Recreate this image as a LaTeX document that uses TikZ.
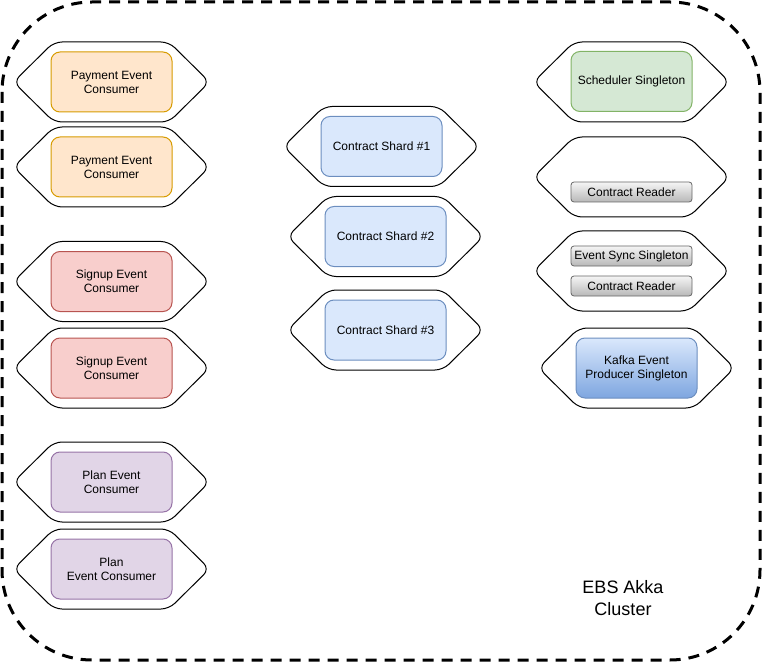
\documentclass[tikz,border=0pt]{standalone}
\usepackage{fontspec}
\setmainfont{Liberation Sans}
\definecolor{payfill}{HTML}{FFE6CC}\definecolor{paydraw}{HTML}{D79B00}
\definecolor{sigfill}{HTML}{F8CECC}\definecolor{sigdraw}{HTML}{B85450}
\definecolor{plafill}{HTML}{E1D5E7}\definecolor{pladraw}{HTML}{9673A6}
\definecolor{shafill}{HTML}{DAE8FC}\definecolor{shadraw}{HTML}{6C8EBF}
\definecolor{schfill}{HTML}{D5E8D4}\definecolor{schdraw}{HTML}{82B366}
\definecolor{kafbot}{HTML}{7EA6E0}
\definecolor{btntop}{HTML}{F5F5F5}\definecolor{btnbot}{HTML}{B8B8B8}\definecolor{btndraw}{HTML}{666666}
\newcommand\drawhex[2]{%
  \draw[hexline] (#1,#2-40) -- (#1+57.5,#2-40) -- (#1+98,#2) -- (#1+57.5,#2+40)
    -- (#1-57.5,#2+40) -- (#1-98,#2) -- (#1-57.5,#2-40) -- cycle;}
\tikzset{
  hexline/.style={draw=black, line width=1pt, rounded corners=8pt},
  box/.style={rectangle, rounded corners=9pt, minimum width=121pt, minimum height=60pt,
    line width=1pt, align=center, font=\fontsize{12}{14}\selectfont, inner sep=2pt},
  paybox/.style={box, fill=payfill, draw=paydraw},
  sigbox/.style={box, fill=sigfill, draw=sigdraw},
  plabox/.style={box, fill=plafill, draw=pladraw},
  shabox/.style={box, fill=shafill, draw=shadraw},
  schbox/.style={box, fill=schfill, draw=schdraw},
  kafbox/.style={box, top color=shafill, bottom color=kafbot, draw=shadraw},
  btn/.style={rectangle, rounded corners=3pt, minimum width=121pt, minimum height=20pt,
    line width=0.8pt, top color=btntop, bottom color=btnbot, draw=btndraw,
    font=\fontsize{12}{14}\selectfont, inner sep=1pt},
  cluster/.style={draw=black, line width=3pt, dash pattern=on 11pt off 8pt, rounded corners=90pt}
}
\begin{document}
\begin{tikzpicture}[x=1pt,y=-1pt]
\useasboundingbox (0,0) rectangle (763,663);
\draw[cluster] (2,2) rectangle (760,660);

% hexagons
\drawhex{111.5}{82}
\drawhex{111.5}{167}
\drawhex{111.5}{281.5}
\drawhex{111.5}{368}
\drawhex{111.5}{482}
\drawhex{111.5}{569}
\drawhex{381.5}{146.5}
\drawhex{385.5}{236.5}
\drawhex{385.5}{330}
\drawhex{631.5}{82}
\drawhex{631.5}{177}
\drawhex{631.5}{271}
\drawhex{636.5}{368}

% boxes
\node[paybox] (pay1) at (111.5,82) {Payment Event\\Consumer};
\node[paybox] (pay2) at (111.5,167) {Payment Event\\Consumer};
\node[sigbox] (sig1) at (111.5,281.5) {Signup Event\\Consumer};
\node[sigbox] (sig2) at (111.5,368) {Signup Event\\Consumer};
\node[plabox] (pla1) at (111.5,482) {Plan Event\\Consumer};
\node[plabox] (pla2) at (111.5,569) {Plan\\Event Consumer};
\node[shabox] (sha1) at (381.5,146.5) {Contract Shard \#1};
\node[shabox] (sha2) at (385.5,236.5) {Contract Shard \#2};
\node[shabox] (sha3) at (385.5,330) {Contract Shard \#3};
\node[schbox] (sch) at (631.5,81.5) {Scheduler Singleton};
\node[btn] (rd1) at (631.5,192) {Contract Reader};
\node[btn] (sync) at (631.5,256) {Event Sync Singleton};
\node[btn] (rd2) at (631.5,286) {Contract Reader};
\node[kafbox] (kaf) at (636.5,368) {Kafka Event\\Producer Singleton};

\node[align=center, font=\fontsize{18}{22}\selectfont] (lbl) at (623,598) {EBS Akka\\Cluster};
\end{tikzpicture}
\end{document}
